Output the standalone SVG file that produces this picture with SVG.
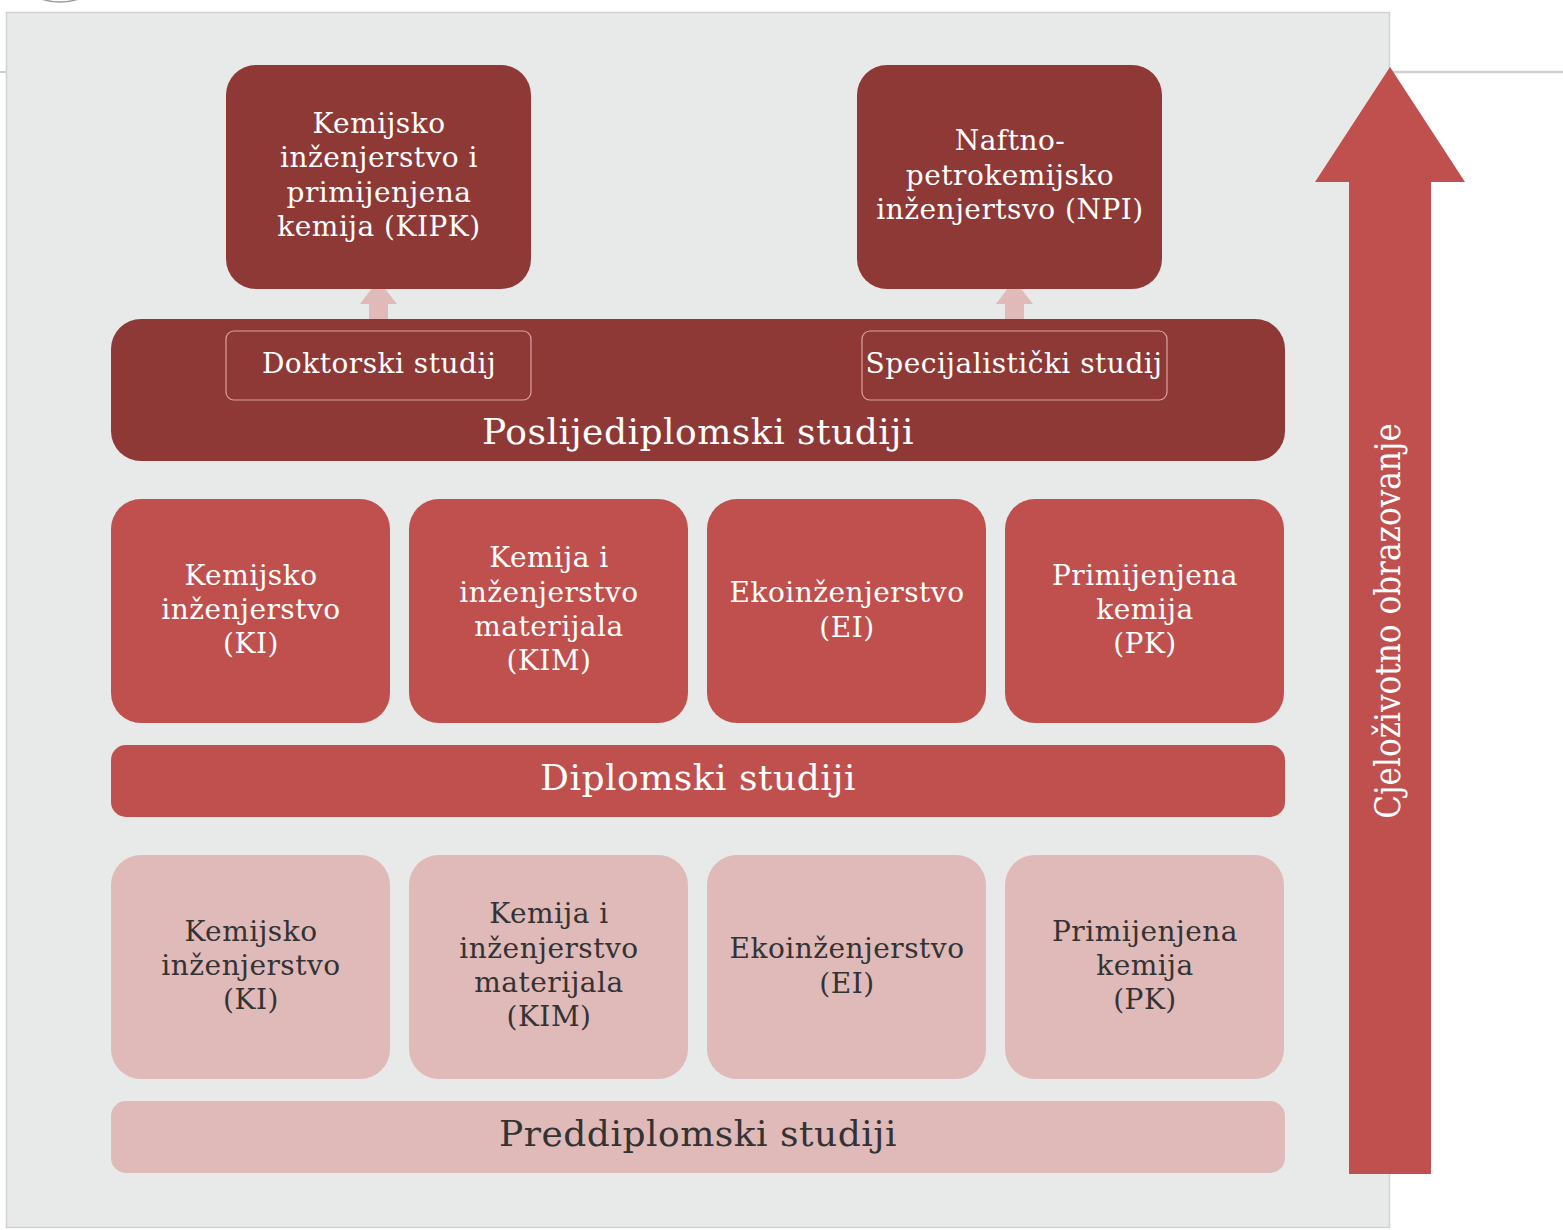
<svg xmlns="http://www.w3.org/2000/svg" width="1563" height="1230" viewBox="0 0 1563 1230">
<style>
text{font-family:"DejaVu Serif","Liberation Serif",serif;text-anchor:middle}
.w{fill:#ffffff}
.d{fill:#333333}
.box{font-size:28px;letter-spacing:0.5px}
.big{font-size:36px;letter-spacing:0.5px}
.vert{font-family:"DejaVu Serif Condensed","DejaVu Serif",serif;font-size:34.6px}
.dark{fill:#8E3936}
.mid{fill:#C0504D}
.pink{fill:#E0B9B9}
.sub{fill:none;stroke:#D9A3A1;stroke-width:1.2}
</style>
<rect width="1563" height="1230" fill="#ffffff"/>
<ellipse cx="60" cy="-22" rx="38" ry="24" fill="none" stroke="#9a9a9a" stroke-width="1.5"/>
<line x1="0" y1="72" x2="7" y2="72" stroke="#cfcfcf" stroke-width="2"/>
<line x1="1390" y1="72" x2="1563" y2="72" stroke="#cfcfcf" stroke-width="2.5"/>
<rect x="6.5" y="12.5" width="1383" height="1215" fill="#E8EAE9" stroke="#d2d2d2" stroke-width="1.5"/>

<g id="arrow-lifelong">
<polygon class="mid" points="1390,67 1465,182 1431,182 1431,1174 1349,1174 1349,182 1315,182"/>
<text class="w vert" transform="translate(1400,621) rotate(-90)">Cjeloživotno obrazovanje</text>
</g>

<g id="connectors">
<polygon class="pink" points="378,280 397,304 388,304 388,331 369,331 369,304 360,304"/>
<polygon class="pink" points="1014,280 1033,304 1024,304 1024,331 1005,331 1005,304 996,304"/>
</g>

<g id="kipk">
<rect class="dark" x="226" y="65" width="305" height="224" rx="30"/>
<text class="w box" x="379" y="133">Kemijsko</text>
<text class="w box" x="379" y="167">inženjerstvo i</text>
<text class="w box" x="379" y="202">primijenjena</text>
<text class="w box" x="379" y="236">kemija (KIPK)</text>
</g>
<g id="npi">
<rect class="dark" x="857" y="65" width="305" height="224" rx="30"/>
<text class="w box" x="1010" y="150">Naftno-</text>
<text class="w box" x="1010" y="185">petrokemijsko</text>
<text class="w box" x="1010" y="219">inženjertsvo (NPI)</text>
</g>

<g id="poslijediplomski">
<rect class="dark" x="111" y="319" width="1174" height="142" rx="30"/>
<text class="w big" x="698" y="444">Poslijediplomski studiji</text>
</g>
<g id="doktorski">
<rect class="sub" x="226" y="331" width="305" height="69" rx="8"/>
<text class="w box" x="379" y="373">Doktorski studij</text>
</g>
<g id="specijalisticki">
<rect class="sub" x="862" y="331" width="305" height="69" rx="8"/>
<text class="w box" x="1014" y="373">Specijalistički studij</text>
</g>

<g id="dipl-ki">
<rect class="mid" x="111" y="499" width="279" height="224" rx="30"/>
<text class="w box" x="251" y="585">Kemijsko</text>
<text class="w box" x="251" y="619">inženjerstvo</text>
<text class="w box" x="251" y="653">(KI)</text>
</g>
<g id="dipl-kim">
<rect class="mid" x="409" y="499" width="279" height="224" rx="30"/>
<text class="w box" x="549" y="567">Kemija i</text>
<text class="w box" x="549" y="602">inženjerstvo</text>
<text class="w box" x="549" y="636">materijala</text>
<text class="w box" x="549" y="670">(KIM)</text>
</g>
<g id="dipl-ei">
<rect class="mid" x="707" y="499" width="279" height="224" rx="30"/>
<text class="w box" x="847" y="602">Ekoinženjerstvo</text>
<text class="w box" x="847" y="637">(EI)</text>
</g>
<g id="dipl-pk">
<rect class="mid" x="1005" y="499" width="279" height="224" rx="30"/>
<text class="w box" x="1145" y="585">Primijenjena</text>
<text class="w box" x="1145" y="619">kemija</text>
<text class="w box" x="1145" y="653">(PK)</text>
</g>
<g id="diplomski">
<rect class="mid" x="111" y="745" width="1174" height="72" rx="15"/>
<text class="w big" x="698" y="790">Diplomski studiji</text>
</g>

<g id="pred-ki">
<rect class="pink" x="111" y="855" width="279" height="224" rx="30"/>
<text class="d box" x="251" y="941">Kemijsko</text>
<text class="d box" x="251" y="975">inženjerstvo</text>
<text class="d box" x="251" y="1009">(KI)</text>
</g>
<g id="pred-kim">
<rect class="pink" x="409" y="855" width="279" height="224" rx="30"/>
<text class="d box" x="549" y="923">Kemija i</text>
<text class="d box" x="549" y="958">inženjerstvo</text>
<text class="d box" x="549" y="992">materijala</text>
<text class="d box" x="549" y="1026">(KIM)</text>
</g>
<g id="pred-ei">
<rect class="pink" x="707" y="855" width="279" height="224" rx="30"/>
<text class="d box" x="847" y="958">Ekoinženjerstvo</text>
<text class="d box" x="847" y="993">(EI)</text>
</g>
<g id="pred-pk">
<rect class="pink" x="1005" y="855" width="279" height="224" rx="30"/>
<text class="d box" x="1145" y="941">Primijenjena</text>
<text class="d box" x="1145" y="975">kemija</text>
<text class="d box" x="1145" y="1009">(PK)</text>
</g>
<g id="preddiplomski">
<rect class="pink" x="111" y="1101" width="1174" height="72" rx="15"/>
<text class="d big" x="698" y="1146">Preddiplomski studiji</text>
</g>
</svg>
